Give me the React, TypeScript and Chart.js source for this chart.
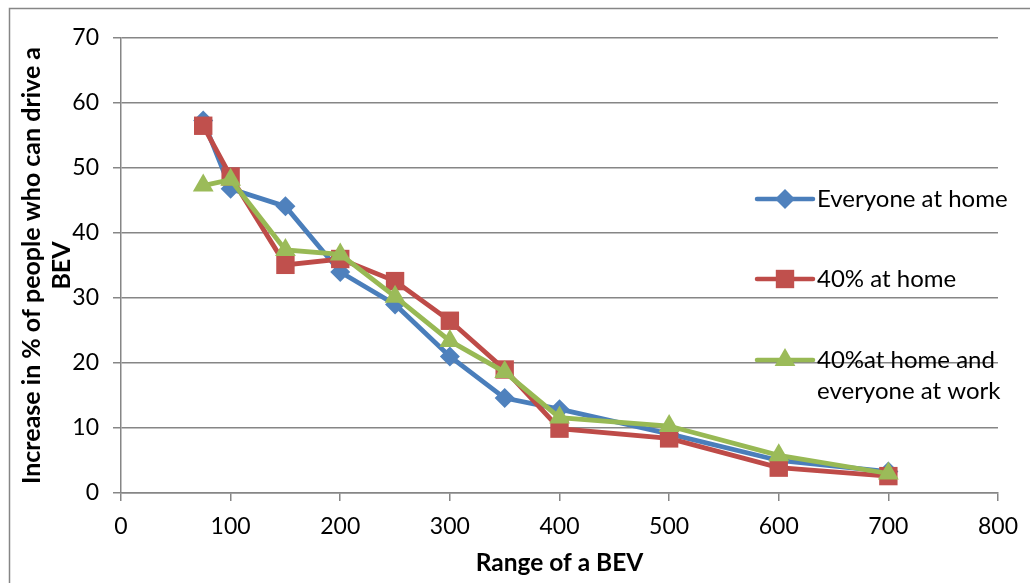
import React, { useEffect, useRef } from 'react';
import { Chart, registerables } from 'chart.js';

Chart.register(...registerables);

// ---- Data ----
const ranges = [75, 100, 150, 200, 250, 300, 350, 400, 500, 600, 700];
const everyoneAtHome = [57.3, 46.8, 44.1, 34.0, 29.0, 21.0, 14.6, 12.9, 9.1, 5.0, 3.3];
const fortyAtHome = [56.5, 48.7, 35.1, 36.0, 32.6, 26.5, 19.0, 9.9, 8.4, 3.9, 2.6];
const fortyHomeEveryoneWork = [47.3, 48.2, 37.4, 36.7, 30.2, 23.4, 18.6, 11.6, 10.3, 5.8, 3.0];

const seriesLabels = ['Everyone at home', '40% at home', '40%at home and\neveryone at work'];
const xAxisTitle = 'Range of a BEV';
const yAxisTitle = ['Increase in % of people who can drive a', 'BEV'];
const xMin = 0, xMax = 800, xStep = 100;
const yMin = 0, yMax = 70, yStep = 10;

// ---- Styles ----
const FONT = 'Lato, "Open Sans", sans-serif';
const GRID = '#868686';
const lineColors = ['#4A7EBB', '#BE4B48', '#98B954'];
const markerColors = ['#4F81BD', '#C0504D', '#9BBB59'];
const pointStyles = ['rectRot', 'rect', 'triangle'];
const pointRadii = [10, 13, 12];

function drawMarker(ctx: CanvasRenderingContext2D, style: string, x: number, y: number, r: number, color: string) {
  ctx.save();
  ctx.fillStyle = color;
  ctx.beginPath();
  if (style === 'rectRot') {
    ctx.moveTo(x, y - r);
    ctx.lineTo(x + r, y);
    ctx.lineTo(x, y + r);
    ctx.lineTo(x - r, y);
  } else if (style === 'rect') {
    const h = r * Math.SQRT1_2;
    ctx.rect(x - h, y - h, 2 * h, 2 * h);
  } else {
    ctx.moveTo(x, y - r);
    ctx.lineTo(x + 0.866 * r, y + 0.5 * r);
    ctx.lineTo(x - 0.866 * r, y + 0.5 * r);
  }
  ctx.closePath();
  ctx.fill();
  ctx.restore();
}

const framePlugin = {
  id: 'frame',
  beforeDraw(chart: any) {
    const ctx = chart.ctx as CanvasRenderingContext2D;
    ctx.save();
    ctx.fillStyle = '#ffffff';
    ctx.fillRect(0, 0, chart.width, chart.height);
    ctx.strokeStyle = GRID;
    ctx.lineWidth = 1.5;
    ctx.beginPath();
    ctx.moveTo(9.5, chart.height + 2);
    ctx.lineTo(9.5, 8.5);
    ctx.lineTo(chart.width + 2, 8.5);
    ctx.stroke();
    ctx.restore();
  },
};

const legendPlugin = {
  id: 'sideLegend',
  afterDraw(chart: any) {
    const ctx = chart.ctx as CanvasRenderingContext2D;
    const rows = [199, 279, 360];
    const x0 = 757, x1 = 813, tx = 817;
    ctx.save();
    seriesLabels.forEach((label, i) => {
      const y = rows[i];
      ctx.strokeStyle = lineColors[i];
      ctx.lineWidth = 4.5;
      ctx.lineCap = 'round';
      ctx.beginPath();
      ctx.moveTo(x0, y);
      ctx.lineTo(x1, y);
      ctx.stroke();
      drawMarker(ctx, pointStyles[i], (x0 + x1) / 2, y, pointRadii[i], markerColors[i]);
      ctx.fillStyle = '#000';
      ctx.font = `24px ${FONT}`;
      ctx.textBaseline = 'middle';
      ctx.textAlign = 'left';
      label.split('\n').forEach((ln, j) => ctx.fillText(ln, tx, y + j * 31));
    });
    ctx.restore();
  },
};

export default function App() {
  const ref = useRef<HTMLCanvasElement | null>(null);

  useEffect(() => {
    if (!ref.current) return;
    const series = [everyoneAtHome, fortyAtHome, fortyHomeEveryoneWork];
    const chart = new Chart(ref.current, {
      type: 'line',
      data: {
        datasets: series.map((vals, i) => ({
          label: seriesLabels[i],
          data: ranges.map((r, k) => ({ x: r, y: vals[k] })),
          borderColor: lineColors[i],
          backgroundColor: markerColors[i],
          pointBackgroundColor: markerColors[i],
          pointBorderColor: markerColors[i],
          pointBorderWidth: 0,
          pointStyle: pointStyles[i] as any,
          pointRadius: pointRadii[i],
          borderWidth: 4.8,
          tension: 0,
          fill: false,
          order: 3 - i,
        })),
      },
      options: {
        responsive: false,
        animation: false,
        events: [],
        devicePixelRatio: 1,
        layout: { padding: { left: 8, top: 38, right: 31, bottom: 0 } },
        plugins: {
          legend: { display: false },
          tooltip: { enabled: false },
        },
        scales: {
          x: {
            type: 'linear',
            min: xMin,
            max: xMax,
            ticks: { stepSize: xStep, color: '#000', padding: 12, font: { family: FONT, size: 23 } },
            grid: { drawOnChartArea: false, drawTicks: true, tickLength: 8, color: GRID, lineWidth: 1.5 },
            border: { color: GRID, width: 1.5 },
            title: {
              display: true,
              text: xAxisTitle,
              color: '#000',
              font: { family: FONT, size: 24.5, weight: 'bold' },
              padding: { top: 0, bottom: 5 },
            },
            afterFit: (s: any) => { s.height = 90; },
          },
          y: {
            type: 'linear',
            min: yMin,
            max: yMax,
            ticks: { stepSize: yStep, color: '#000', padding: 14, font: { family: FONT, size: 23 } },
            grid: { drawTicks: true, tickLength: 8, color: GRID, lineWidth: 1.5 },
            border: { color: GRID, width: 1.5 },
            title: {
              display: true,
              text: yAxisTitle,
              color: '#000',
              font: { family: FONT, size: 25, weight: 'bold', lineHeight: 1.2 },
              padding: { top: 9, bottom: 0 },
            },
            afterFit: (s: any) => { s.width = 113; },
          },
        },
      },
      plugins: [framePlugin, legendPlugin],
    });
    return () => chart.destroy();
  }, []);

  return (
    <div style={{ position: 'absolute', left: 0, top: 0, width: 1030, height: 583 }}>
      <canvas ref={ref} width={1030} height={583} style={{ display: 'block' }} />
    </div>
  );
}
